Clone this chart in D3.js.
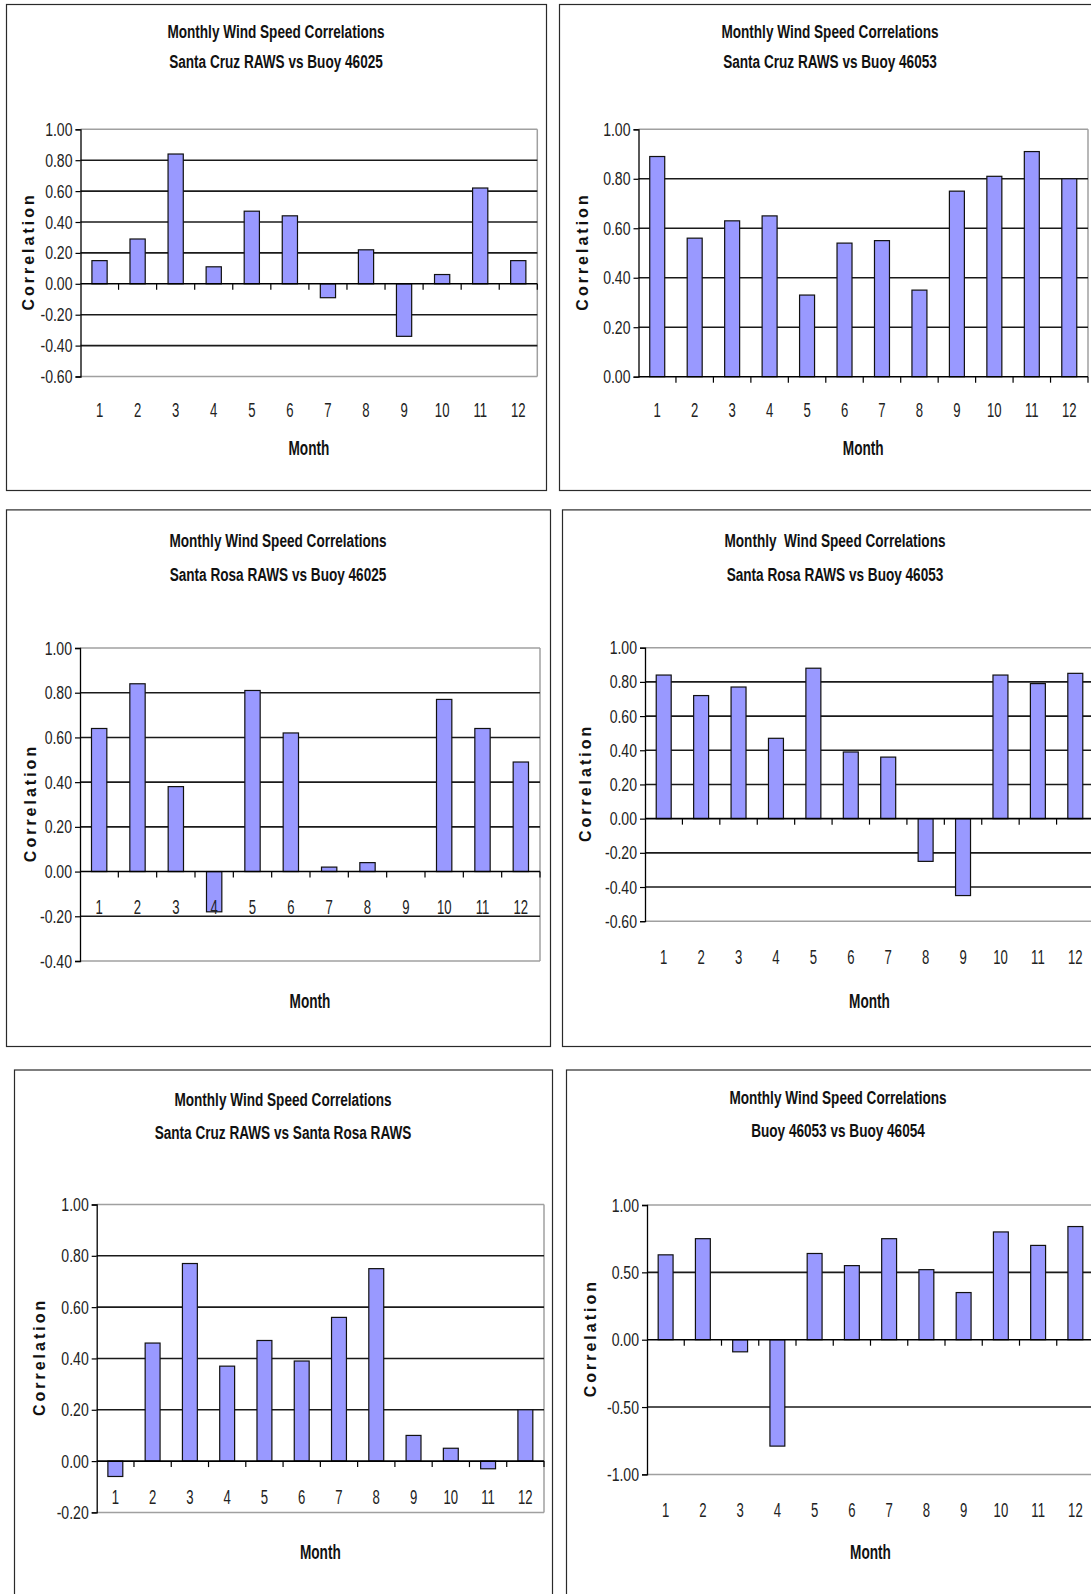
<!DOCTYPE html>
<html>
<head>
<meta charset="utf-8">
<script src="https://cdn.jsdelivr.net/npm/d3@7"></script>
<style>
  html, body { margin: 0; padding: 0; background: #fff; }
  svg { display: block; }
</style>
</head>
<body>
<svg id="chart" width="1091" height="1594"></svg>
<script>
// Month categories shared by every panel
const months = [1, 2, 3, 4, 5, 6, 7, 8, 9, 10, 11, 12];

// Monthly wind speed correlation coefficients, one array per station pair
const santaCruzVsBuoy46025 = [0.15, 0.29, 0.84, 0.11, 0.47, 0.44, -0.09, 0.22, -0.34, 0.06, 0.62, 0.15];
const santaCruzVsBuoy46053 = [0.89, 0.56, 0.63, 0.65, 0.33, 0.54, 0.55, 0.35, 0.75, 0.81, 0.91, 0.80];
const santaRosaVsBuoy46025 = [0.64, 0.84, 0.38, -0.18, 0.81, 0.62, 0.02, 0.04, null, 0.77, 0.64, 0.49];
const santaRosaVsBuoy46053 = [0.84, 0.72, 0.77, 0.47, 0.88, 0.39, 0.36, -0.25, -0.45, 0.84, 0.79, 0.85];
const santaCruzVsSantaRosa = [-0.06, 0.46, 0.77, 0.37, 0.47, 0.39, 0.56, 0.75, 0.10, 0.05, -0.03, 0.20];
const buoy46053VsBuoy46054 = [0.63, 0.75, -0.09, -0.79, 0.64, 0.55, 0.75, 0.52, 0.35, 0.80, 0.70, 0.84];

// Value-axis tick labels for each panel
const ticksA = [-0.6, -0.4, -0.2, 0, 0.2, 0.4, 0.6, 0.8, 1.0];
const ticksB = [0, 0.2, 0.4, 0.6, 0.8, 1.0];
const ticksC = [-0.4, -0.2, 0, 0.2, 0.4, 0.6, 0.8, 1.0];
const ticksD = [-0.6, -0.4, -0.2, 0, 0.2, 0.4, 0.6, 0.8, 1.0];
const ticksE = [-0.2, 0, 0.2, 0.4, 0.6, 0.8, 1.0];
const ticksF = [-1.0, -0.5, 0, 0.5, 1.0];

// Chart titles (two lines each)
const titleTop = "Monthly Wind Speed Correlations";
const titleTopWide = "Monthly  Wind Speed Correlations";
const subtitles = [
  "Santa Cruz RAWS vs Buoy 46025",
  "Santa Cruz RAWS vs Buoy 46053",
  "Santa Rosa RAWS vs Buoy 46025",
  "Santa Rosa RAWS vs Buoy 46053",
  "Santa Cruz RAWS vs Santa Rosa RAWS",
  "Buoy 46053 vs Buoy 46054"
];
const xTitle = "Month";
const yTitle = "Correlation";

// Page layout of the six chart panels
const layout = [
  { box: [6, 4, 540, 486],        plot: { l: 80.5, r: 537.3, t: 129.3, b: 376.5 }, title: [31.5, 62],    ylab: 28.5,  labelAt: "low",  labelOff: 33.5, month: 448.4 },
  { box: [559, 4, 542, 486],      plot: { l: 638.5, r: 1088, t: 129.3, b: 376.7 }, title: [31.5, 62],    ylab: 582.6, labelAt: "low",  labelOff: 33,   month: 448.4 },
  { box: [6, 509.4, 544, 536.6],  plot: { l: 80, r: 540, t: 648, b: 961 },         title: [541, 574.5],  ylab: 30.5,  labelAt: "axis", labelOff: 35.5, month: 1001.5 },
  { box: [562, 509.4, 546, 536.6],plot: { l: 645, r: 1094, t: 647.7, b: 921.2 },   title: [541, 574.5],  ylab: 585.7, labelAt: "low",  labelOff: 35.6, month: 1001.5 },
  { box: [14, 1069.5, 538, 600],  plot: { l: 96.7, r: 544, t: 1204.5, b: 1512.4 }, title: [1100, 1133],  ylab: 39.3,  labelAt: "axis", labelOff: 36,   month: 1552.6 },
  { box: [566, 1069.5, 544, 600], plot: { l: 647, r: 1094, t: 1205, b: 1474.4 },   title: [1098, 1131],  ylab: 590.7, labelAt: "low",  labelOff: 35.6, month: 1552.6 }
];

const panels = [
  { values: santaCruzVsBuoy46025, ticks: ticksA, titles: [titleTop, subtitles[0]] },
  { values: santaCruzVsBuoy46053, ticks: ticksB, titles: [titleTop, subtitles[1]] },
  { values: santaRosaVsBuoy46025, ticks: ticksC, titles: [titleTop, subtitles[2]] },
  { values: santaRosaVsBuoy46053, ticks: ticksD, titles: [titleTopWide, subtitles[3]] },
  { values: santaCruzVsSantaRosa, ticks: ticksE, titles: [titleTop, subtitles[4]] },
  { values: buoy46053VsBuoy46054, ticks: ticksF, titles: [titleTop, subtitles[5]] }
];

const FONT = "'Liberation Sans', Arial, Helvetica, sans-serif";
const barFill = "#9999ff";
const gridColor = "#1a1a1a";
const edgeColor = "#a0a0a0";

const svg = d3.select("#chart");

// text squeezed horizontally to get a narrow face
function narrow(sel, sx) {
  return sel.attr("font-family", FONT).attr("fill", "#111")
    .each(function () {
      const t = d3.select(this);
      const px = +t.attr("data-x"), py = +t.attr("data-y");
      t.attr("transform", `translate(${px},${py}) scale(${sx},1)`);
    });
}

function drawPanel(panel, cfg) {
  const g = svg.append("g");
  const [bx, by, bw, bh] = cfg.box;
  const p = cfg.plot;

  // panel frame
  g.append("rect")
    .attr("x", bx + 0.5).attr("y", by + 0.5)
    .attr("width", bw).attr("height", bh)
    .attr("fill", "#fff").attr("stroke", "#2a2a2a").attr("stroke-width", 1.2);

  const cx = bx + bw / 2;
  g.selectAll("text.title")
    .data(panel.titles)
    .join("text")
    .attr("class", "title")
    .attr("data-x", cx)
    .attr("data-y", (d, i) => cfg.title[i])
    .attr("dy", "0.35em")
    .attr("text-anchor", "middle")
    .style("white-space", "pre")
    .attr("font-size", 18.5)
    .attr("font-weight", "bold")
    .text(d => d)
    .call(narrow, 0.735);

  const yDomain = d3.extent(panel.ticks);
  const y = d3.scaleLinear().domain(yDomain).range([p.b, p.t]);
  const x = d3.scaleBand().domain(months).range([p.l, p.r])
    .paddingInner(0.6).paddingOuter(0.3);

  // plot-area edges (top and right, plus bottom when it is not the zero axis)
  g.append("line").attr("x1", p.l).attr("x2", p.r).attr("y1", y(yDomain[1])).attr("y2", y(yDomain[1]))
    .attr("stroke", edgeColor).attr("stroke-width", 1.5);
  g.append("line").attr("x1", p.r).attr("x2", p.r).attr("y1", p.t).attr("y2", p.b)
    .attr("stroke", edgeColor).attr("stroke-width", 1.5);
  if (yDomain[0] !== 0) {
    g.append("line").attr("x1", p.l).attr("x2", p.r).attr("y1", y(yDomain[0])).attr("y2", y(yDomain[0]))
      .attr("stroke", edgeColor).attr("stroke-width", 1.5);
  }

  // major gridlines
  const inner = panel.ticks.filter(t => t !== yDomain[0] && t !== yDomain[1] && t !== 0);
  g.selectAll("line.grid")
    .data(inner)
    .join("line")
    .attr("class", "grid")
    .attr("x1", p.l).attr("x2", p.r)
    .attr("y1", d => y(d)).attr("y2", d => y(d))
    .attr("stroke", gridColor).attr("stroke-width", 1.6);

  // value axis
  const tickSize = 5, tickPad = 3, sxTick = 0.74;
  const yAxis = d3.axisLeft(y)
    .tickValues(panel.ticks)
    .tickSize(tickSize)
    .tickPadding(tickPad)
    .tickFormat(d => d.toFixed(2));
  const ya = g.append("g").attr("transform", `translate(${p.l},0)`).call(yAxis);
  ya.select(".domain").attr("stroke", "#000").attr("stroke-width", 1.3);
  ya.selectAll(".tick line").attr("stroke", "#000").attr("stroke-width", 1.2);
  ya.selectAll(".tick text")
    .attr("font-family", FONT)
    .attr("font-size", 19)
    .attr("fill", "#222")
    .attr("x", -(tickSize + tickPad) / sxTick)
    .attr("transform", `scale(${sxTick},1)`);

  // bars
  const rows = months.map((m, i) => ({ m, v: panel.values[i] })).filter(d => d.v !== null);
  g.selectAll("rect.bar")
    .data(rows)
    .join("rect")
    .attr("class", "bar")
    .attr("x", d => x(d.m))
    .attr("width", x.bandwidth())
    .attr("y", d => y(Math.max(0, d.v)))
    .attr("height", d => Math.abs(y(d.v) - y(0)))
    .attr("fill", barFill)
    .attr("stroke", "#111")
    .attr("stroke-width", 1.2);

  // category axis along zero with boundary tick marks
  const y0 = y(0);
  g.append("line").attr("x1", p.l).attr("x2", p.r).attr("y1", y0).attr("y2", y0)
    .attr("stroke", "#000").attr("stroke-width", 1.6);
  const bounds = d3.range(1, months.length + 1).map(i => p.l + i * x.step());
  g.selectAll("line.xtick")
    .data(bounds)
    .join("line")
    .attr("class", "xtick")
    .attr("x1", d => d).attr("x2", d => d)
    .attr("y1", y0).attr("y2", y0 + 6)
    .attr("stroke", "#000").attr("stroke-width", 1.2);

  // month labels
  const labelY = (cfg.labelAt === "axis" ? y0 : p.b) + cfg.labelOff;
  g.selectAll("text.xlab")
    .data(months)
    .join("text")
    .attr("class", "xlab")
    .attr("data-x", d => x(d) + x.bandwidth() / 2)
    .attr("data-y", labelY)
    .attr("dy", "0.35em")
    .attr("text-anchor", "middle")
    .attr("font-size", 20.5)
    .text(d => d)
    .call(narrow, 0.64)
    .attr("fill", "#222");

  // axis titles
  g.append("text")
    .attr("data-x", (p.l + p.r) / 2)
    .attr("data-y", cfg.month)
    .attr("dy", "0.35em")
    .attr("text-anchor", "middle")
    .attr("font-size", 19.5)
    .attr("font-weight", "bold")
    .text(xTitle)
    .call(narrow, 0.7);

  g.append("text")
    .attr("transform", `translate(${cfg.ylab},${(p.t + p.b) / 2}) rotate(-90)`)
    .attr("dy", "0.36em")
    .attr("dx", "1.5")
    .attr("text-anchor", "middle")
    .attr("font-family", FONT)
    .attr("font-weight", 700)
    .attr("font-size", 16)
    .attr("letter-spacing", "3px")
    .attr("fill", "#111")
    .text(yTitle);
}

panels.forEach((panel, i) => drawPanel(panel, layout[i]));
</script>
</body>
</html>
